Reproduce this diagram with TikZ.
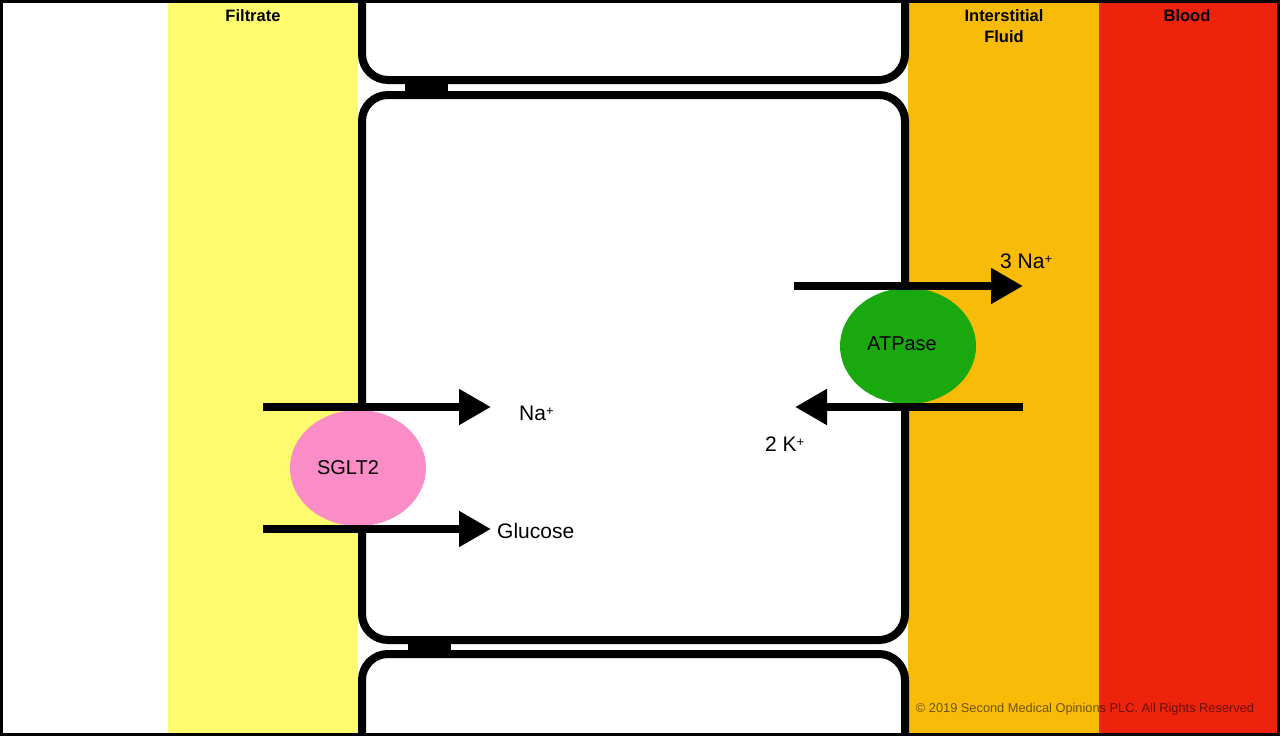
\documentclass[tikz,border=0pt]{standalone}
\usepackage{fontspec}
\setmainfont{Liberation Sans}
\usetikzlibrary{arrows.meta}
\usetikzlibrary{shapes.geometric}
\usetikzlibrary{positioning}
\definecolor{filtrateC}{HTML}{FFFB6E}
\definecolor{fluidC}{HTML}{F8BB08}
\definecolor{bloodC}{HTML}{EE230B}
\definecolor{sgltC}{HTML}{FA8CC7}
\definecolor{atpC}{HTML}{1AA80F}
\newcommand{\ionplus}{\raisebox{5pt}{\fontsize{13}{13}\selectfont+}}

\begin{document}
\begin{tikzpicture}[x=1pt,y=-1pt,
  cell/.style={draw,line width=8pt,rounded corners=26pt,fill=white},
  pump/.style={ellipse,minimum width=136pt,minimum height=116pt,inner sep=0pt,font=\fontsize{20}{24}\selectfont},
  flow/.style={line width=8pt,-{Triangle[length=32pt,width=34pt]}},
  ion/.style={inner sep=0pt,font=\fontsize{21}{25}\selectfont},
  zone/.style={inner sep=0pt,align=center,font=\bfseries\fontsize{16.5}{21}\selectfont}]
\useasboundingbox (0,0) rectangle (1280,736);
% compartments
\fill[filtrateC] (168,0) rectangle (358,736);
\fill[fluidC] (908,0) rectangle (1099,736);
\fill[bloodC] (1099,0) rectangle (1280,736);
% cells and tight junctions
\begin{scope}
\clip (0,0) rectangle (1280,736);
\draw[cell] (362,-60) rectangle (905,80);
\draw[cell] (362,95) rectangle (905,640);
\draw[cell] (362,654) rectangle (905,800);
\end{scope}
\fill (405,80) rectangle (448,95);
\fill (408,640) rectangle (451,654);
% transporters
\node[pump,fill=sgltC,label={[inner sep=0pt,xshift=-10pt,font=\fontsize{20}{24}\selectfont]center:SGLT2}] (sglt) at (358,468) {};
\node[pump,fill=atpC,label={[inner sep=0pt,xshift=-6pt,yshift=2pt,font=\fontsize{20}{24}\selectfont]center:ATPase}] (atp) at (908,346) {};
% fluxes
\coordinate (naIn) at (263,407);  \coordinate (naOut) at (491,407);
\coordinate (glcIn) at (263,529); \coordinate (glcOut) at (491,529);
\coordinate (naPIn) at (794,286); \coordinate (naPOut) at (1023,286);
\coordinate (kIn) at (1023,407);  \coordinate (kOut) at (795,407);
\draw[flow] (naIn) -- (naOut);
\draw[flow] (glcIn) -- (glcOut);
\draw[flow] (naPIn) -- (naPOut);
\draw[flow] (kIn) -- (kOut);
\node[ion,anchor=west] (na) at (519,413) {Na\ionplus};
\node[ion,anchor=west] (glc) at (497,531) {Glucose};
\node[ion,anchor=west] (naP) at (1000,261) {3 Na\ionplus};
\node[ion,anchor=west] (k) at (765,444) {2 K\ionplus};
% headings
\node[zone] (filt) at (253,16) {Filtrate};
\node[zone] (fluid) at (1004,26.5) {Interstitial\\Fluid};
\node[zone] (blood) at (1187,16) {Blood};
\node[inner sep=0pt,text opacity=0.55,font=\fontsize{12.8}{15}\selectfont] (copy) at (1085,709) {\textcopyright{} 2019 Second Medical Opinions PLC. All Rights Reserved};
\draw[line width=3pt] (1.5,1.5) rectangle (1278.5,734.5);
\end{tikzpicture}
\end{document}
